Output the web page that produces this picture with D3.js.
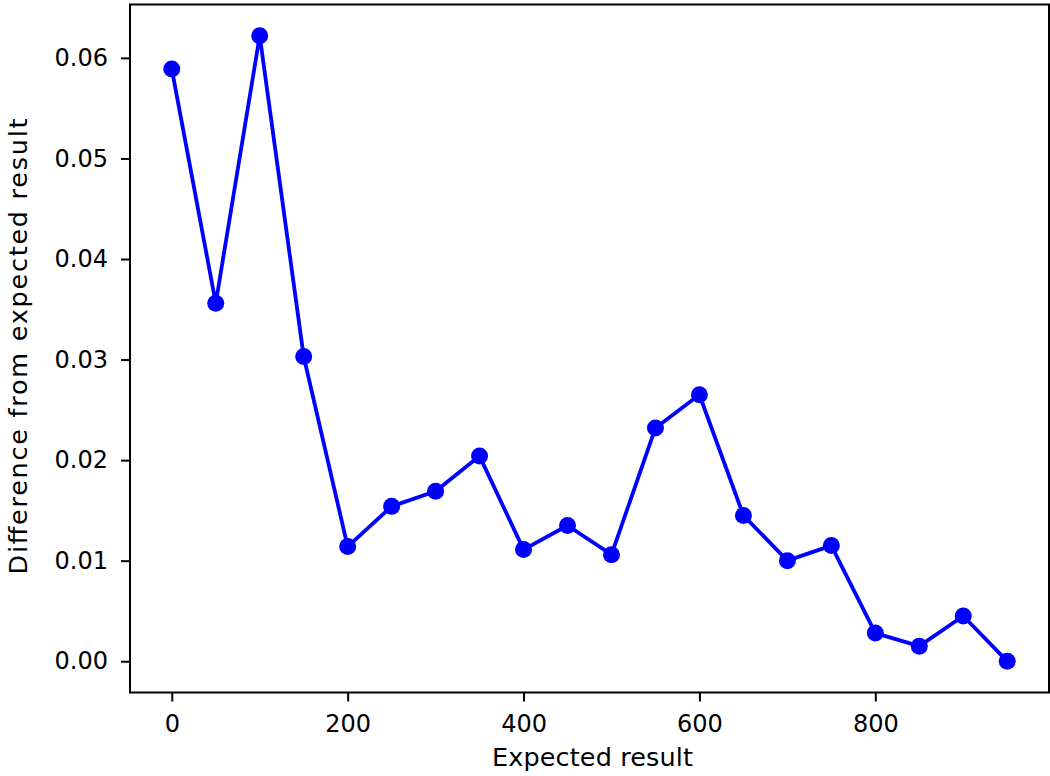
<!DOCTYPE html>
<html>
<head>
<meta charset="utf-8">
<script src="https://cdn.jsdelivr.net/npm/d3@7"></script>
<style>
  html, body { margin: 0; padding: 0; background: #fff; }
  svg { display: block; }
  text { font-family: "DejaVu Sans", sans-serif; fill: #000; }
</style>
</head>
<body>
<svg id="chart" width="1050" height="776"></svg>
<script>
// Expected result (x) and measured difference (y)
const expected = [0, 50, 100, 150, 200, 250, 300, 350, 400, 450,
                  500, 550, 600, 650, 700, 750, 800, 850, 900, 950];
const difference = [0.0589, 0.0356, 0.0622, 0.0303, 0.0114, 0.0154, 0.0169, 0.0204, 0.0111, 0.0135,
                    0.0106, 0.0232, 0.0265, 0.0145, 0.0100, 0.0115, 0.0028, 0.0015, 0.0045, 0.0000];
const xTicks = [0, 200, 400, 600, 800];
const yTicks = [0.00, 0.01, 0.02, 0.03, 0.04, 0.05, 0.06];
const xLabel = "Expected result";
const yLabel = "Difference from expected result";

const W = 1050, H = 776;
const plot = { left: 130, top: 4.5, right: 1049, bottom: 692.5 };
const tickFont = 24;
const labelFont = 25.5;

const svg = d3.select("#chart");

// 5% padding around data range on both axes
function padded(ext) {
  const span = ext[1] - ext[0];
  return [ext[0] - span * 0.05, ext[1] + span * 0.05];
}

const x = d3.scaleLinear()
  .domain(padded(d3.extent(expected)))
  .range([plot.left, plot.right]);
const y = d3.scaleLinear()
  .domain(padded(d3.extent(difference)))
  .range([plot.bottom, plot.top]);

const data = expected.map((e, i) => ({ x: e, y: difference[i] }));

// Line and markers
const line = d3.line().x(d => x(d.x)).y(d => y(d.y));
svg.append("path")
  .datum(data)
  .attr("d", line)
  .attr("fill", "none")
  .attr("stroke", "#0000ff")
  .attr("stroke-width", 3.8)
  .attr("stroke-linejoin", "round")
  .attr("stroke-linecap", "square");

svg.append("g")
  .selectAll("circle")
  .data(data)
  .join("circle")
  .attr("cx", d => x(d.x))
  .attr("cy", d => y(d.y))
  .attr("r", 8.5)
  .attr("fill", "#0000ff");

// Axes
const xAxis = d3.axisBottom(x)
  .tickValues(xTicks)
  .tickFormat(d3.format("d"))
  .tickSize(9)
  .tickPadding(13.5);
const yAxis = d3.axisLeft(y)
  .tickValues(yTicks)
  .tickFormat(d3.format(".2f"))
  .tickSize(9)
  .tickPadding(13);

const gx = svg.append("g")
  .attr("transform", `translate(0,${plot.bottom})`)
  .call(xAxis);
const gy = svg.append("g")
  .attr("transform", `translate(${plot.left},0)`)
  .call(yAxis);

[gx, gy].forEach(g => {
  g.select(".domain").remove();
  g.selectAll(".tick line").attr("stroke", "#000").attr("stroke-width", 2);
  g.selectAll(".tick text")
    .style("font-family", "DejaVu Sans, sans-serif")
    .style("font-size", tickFont + "px")
    .attr("fill", "#262626");
});

// Frame around the plotting area
svg.append("rect")
  .attr("x", plot.left)
  .attr("y", plot.top)
  .attr("width", plot.right - plot.left)
  .attr("height", plot.bottom - plot.top)
  .attr("fill", "none")
  .attr("stroke", "#000")
  .attr("stroke-width", 2);

// Axis titles
svg.append("text")
  .attr("x", (plot.left + plot.right) / 2 + 3)
  .attr("y", 766)
  .attr("text-anchor", "middle")
  .attr("textLength", 201)
  .attr("lengthAdjust", "spacing")
  .attr("fill", "#262626")
  .style("font-size", labelFont + "px")
  .text(xLabel);

svg.append("text")
  .attr("transform", `translate(27,346.5) rotate(-90)`)
  .attr("text-anchor", "middle")
  .attr("textLength", 456)
  .attr("lengthAdjust", "spacing")
  .attr("fill", "#262626")
  .style("font-size", labelFont + "px")
  .text(yLabel);
</script>
</body>
</html>
